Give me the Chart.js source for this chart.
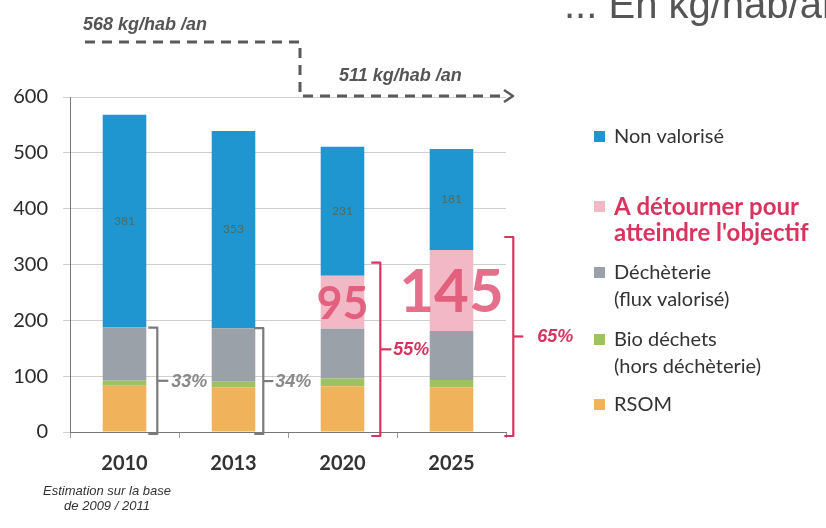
<!DOCTYPE html>
<html lang="fr">
<head>
    <meta charset="UTF-8">
    <title>Déchets ménagers - kg/hab/an</title>
    <script src="https://cdn.jsdelivr.net/npm/chart.js"></script>
    <style>
        html, body { margin: 0; padding: 0; background: #fff; }
        #wrap { width: 826px; height: 528px; }
    </style>
</head>
<body>
    <div id="wrap">
        <canvas id="wasteChart" width="826" height="528"></canvas>
    </div>

    <script>
        // Data (kg/hab/an)
        const years = ['2010', '2013', '2020', '2025'];
        const rsom = [83, 80, 82, 80];
        const bioDechets = [9, 10, 14, 13];
        const decheterie = [95, 96, 89, 88];
        const aDetourner = [0, 0, 95, 145];
        const nonValorise = [381, 353, 231, 181];

        const valorisePct = ['33%', '34%', '55%', '65%'];
        const totalLabels = ['568 kg/hab /an', '511 kg/hab /an'];

        const seriesNames = ['RSOM', 'Bio déchets\n(hors déchèterie)', 'Déchèterie\n(flux valorisé)',
            'A détourner pour\natteindre l\'objectif', 'Non valorisé'];
        const seriesColors = ['#f0b35c', '#9dc262', '#9ba1a9', '#f2b8c6', '#1f96cf'];

        const FONT = 'Lato, "Open Sans", sans-serif';
        const PINK = '#d9345f';

        // Legend rows, top to bottom (dataset index + y of first line)
        const legendRows = [
            { ds: 4, y: 137 },
            { ds: 3, y: 207 },
            { ds: 2, y: 273 },
            { ds: 1, y: 340 },
            { ds: 0, y: 405 }
        ];

        // Brackets: gap from bar edge, tick length, label offset
        const bracketStyle = [
            { gap: 11, tick: 11, text: 14, color: '#7a7a7a', textColor: '#8a8a8a', pink: false },
            { gap: 8, tick: 10, text: 12, color: '#7a7a7a', textColor: '#8a8a8a', pink: false },
            { gap: 16, tick: 11, text: 13, color: PINK, textColor: PINK, pink: true },
            { gap: 40, tick: 10, text: 24, color: PINK, textColor: PINK, pink: true }
        ];

        const datasets = [rsom, bioDechets, decheterie, aDetourner, nonValorise].map((values, i) => ({
            label: seriesNames[i],
            data: values,
            backgroundColor: seriesColors[i],
            borderWidth: 0,
            stack: 'total',
            barPercentage: 0.4,
            categoryPercentage: 1.0
        }));

        function drawBracket(ctx, x, yTop, yBot, stub, color) {
            ctx.beginPath();
            ctx.moveTo(x - stub, yTop);
            ctx.lineTo(x, yTop);
            ctx.lineTo(x, yBot);
            ctx.lineTo(x - stub, yBot);
            ctx.strokeStyle = color;
            ctx.lineWidth = 2.2;
            ctx.lineJoin = 'round';
            ctx.stroke();
        }

        const annotations = {
            id: 'annotations',
            afterDatasetsDraw(chart) {
                const ctx = chart.ctx;
                const y = chart.scales.y;
                ctx.save();

                // Values written inside the blue segments
                const blueMeta = chart.getDatasetMeta(4);
                blueMeta.data.forEach((bar, j) => {
                    const mid = (bar.y + bar.base) / 2;
                    ctx.font = '12px ' + FONT;
                    ctx.fillStyle = 'rgba(95, 90, 50, 0.7)';
                    ctx.textAlign = 'center';
                    ctx.textBaseline = 'middle';
                    ctx.fillText(String(nonValorise[j]), bar.x, mid);
                });

                // Big pink numbers on the segments to divert
                const pinkMeta = chart.getDatasetMeta(3);
                pinkMeta.data.forEach((bar, j) => {
                    if (!aDetourner[j]) return;
                    const mid = (bar.y + bar.base) / 2;
                    const size = aDetourner[j] >= 100 ? 60 : 45;
                    ctx.font = 'bold ' + size + 'px ' + FONT;
                    ctx.fillStyle = 'rgba(222, 70, 105, 0.78)';
                    ctx.textAlign = 'center';
                    ctx.textBaseline = 'middle';
                    ctx.fillText(String(aDetourner[j]), bar.x, mid + 2);
                });

                // Brackets with the share of recovered waste
                years.forEach((yr, j) => {
                    const st = bracketStyle[j];
                    const bar = chart.getDatasetMeta(4).data[j];
                    const right = bar.x + bar.width / 2;
                    const x = right + st.gap;
                    const topVal = rsom[j] + bioDechets[j] + decheterie[j] + aDetourner[j];
                    const yTop = y.getPixelForValue(topVal) - (st.pink ? 13 : 0);
                    const yBot = y.getPixelForValue(0) + (st.pink ? 4 : 2);
                    drawBracket(ctx, x, yTop, yBot, 9, st.color);
                    const ym = (yTop + yBot) / 2;
                    ctx.beginPath();
                    ctx.moveTo(x, ym);
                    ctx.lineTo(x + st.tick, ym);
                    ctx.stroke();
                    ctx.font = 'italic bold 18px "Liberation Sans", Arial, sans-serif';
                    ctx.fillStyle = st.textColor;
                    ctx.textAlign = 'left';
                    ctx.textBaseline = 'middle';
                    ctx.fillText(valorisePct[j], x + st.text, ym + 1);
                });

                // Dashed step line between the two totals
                ctx.setLineDash([10, 7]);
                ctx.strokeStyle = '#5a5a5a';
                ctx.lineWidth = 3;
                ctx.beginPath();
                ctx.moveTo(85, 42);
                ctx.lineTo(300, 42);
                ctx.lineTo(300, 96);
                ctx.lineTo(505, 96);
                ctx.stroke();
                ctx.setLineDash([]);
                ctx.lineWidth = 2.5;
                ctx.beginPath();
                ctx.moveTo(504, 90);
                ctx.lineTo(513, 96);
                ctx.lineTo(504, 102);
                ctx.stroke();

                ctx.font = 'italic bold 18px "Liberation Sans", Arial, sans-serif';
                ctx.fillStyle = '#555';
                ctx.textAlign = 'left';
                ctx.textBaseline = 'alphabetic';
                ctx.fillText(totalLabels[0], 83, 30);
                ctx.fillText(totalLabels[1], 339, 81);

                // Heading, cut by the top edge
                ctx.font = '40px "Liberation Sans", Arial, sans-serif';
                ctx.fillStyle = '#555';
                ctx.fillText('... En kg/hab/an', 564, 18);

                // Legend
                legendRows.forEach(row => {
                    const lines = seriesNames[row.ds].split('\n');
                    const pink = row.ds === 3;
                    ctx.fillStyle = seriesColors[row.ds];
                    ctx.fillRect(594, row.y - 6, 11, 11);
                    ctx.font = (pink ? 'bold 24px ' : '20px ') + FONT;
                    ctx.fillStyle = pink ? PINK : '#333';
                    ctx.textBaseline = 'middle';
                    lines.forEach((line, k) => {
                        ctx.fillText(line, 614, row.y + k * (pink ? 26 : 27));
                    });
                });

                // Footnote
                ctx.font = 'italic 13px "Liberation Sans", Arial, sans-serif';
                ctx.fillStyle = '#333';
                ctx.textAlign = 'center';
                ctx.fillText('Estimation sur la base', 107, 491);
                ctx.fillText('de 2009 / 2011', 107, 506);

                ctx.restore();
            }
        };

        new Chart(document.getElementById('wasteChart'), {
            type: 'bar',
            data: { labels: years, datasets: datasets },
            options: {
                responsive: false,
                animation: false,
                layout: { padding: { top: 97, right: 320, left: 0, bottom: 0 } },
                plugins: {
                    legend: { display: false },
                    tooltip: { enabled: false }
                },
                scales: {
                    x: {
                        stacked: true,
                        afterFit: (scale) => { scale.height = 96; },
                        grid: { drawOnChartArea: false, offset: true, tickLength: 6, color: '#999' },
                        border: { color: '#777' },
                        ticks: { color: '#333', padding: 14, font: { family: FONT, size: 20, weight: 'bold' } }
                    },
                    y: {
                        stacked: true,
                        min: 0,
                        max: 600,
                        afterFit: (scale) => { scale.width = 70; },
                        grid: { color: '#cfcfcf', tickLength: 7 },
                        border: { color: '#777' },
                        ticks: { stepSize: 100, color: '#2a2a2a', padding: 15, font: { family: FONT, size: 20 } }
                    }
                }
            },
            plugins: [annotations]
        });
    </script>
</body>
</html>
